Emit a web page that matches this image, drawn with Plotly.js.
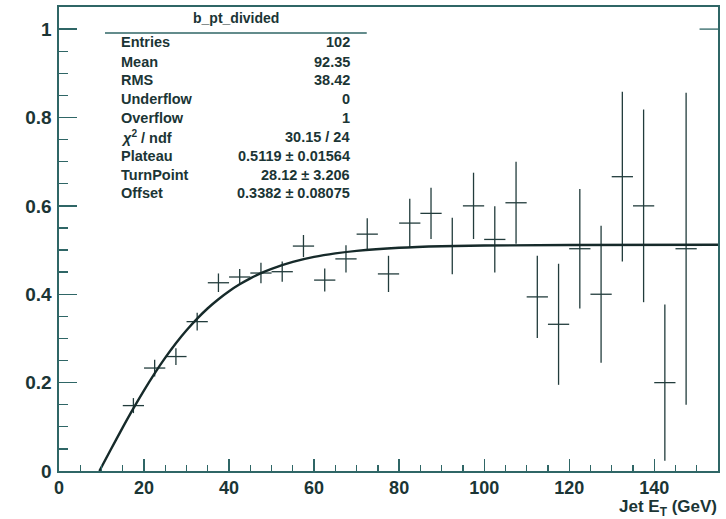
<!DOCTYPE html>
<html>
<head>
<meta charset="utf-8">
<script src="https://cdn.plot.ly/plotly-3.0.1.min.js"></script>
<style>
html,body{margin:0;padding:0;background:#fff;}
#chart{width:726px;height:519px;}
</style>
</head>
<body>
<div id="chart"></div>
<script>
// Bin centres (GeV) and efficiency values with errors
const binCenters = [17.5,22.5,27.5,32.5,37.5,42.5,47.5,52.5,57.5,62.5,67.5,72.5,77.5,82.5,87.5,92.5,97.5,102.5,107.5,112.5,117.5,122.5,127.5,132.5,137.5,142.5,147.5];
const binHalfWidth = [2.5,2.5,2.5,2.5,2.5,2.5,2.5,2.5,2.5,2.5,2.5,2.5,2.5,2.5,2.5,2.5,2.5,2.5,2.5,2.5,2.5,2.5,2.5,2.5,2.5,2.5,2.5];
const effValues = [0.148,0.233,0.259,0.338,0.426,0.439,0.448,0.451,0.509,0.432,0.480,0.536,0.446,0.561,0.583,0.509,0.600,0.524,0.607,0.394,0.332,0.503,0.400,0.666,0.600,0.200,0.503];
const effErrors = [0.017,0.019,0.019,0.020,0.021,0.018,0.023,0.023,0.025,0.026,0.031,0.036,0.041,0.055,0.058,0.064,0.075,0.075,0.093,0.093,0.137,0.135,0.155,0.192,0.218,0.177,0.353];

// Fit curve
const fitX = [9.5,12,15,17.5,20,22.5,25,27.5,30,32.5,35,37.5,40,42.5,45,47.5,50,55,60,65,70,80,90,100,120,155];
const fitY = [0,0.0452,0.0987,0.1416,0.1825,0.2210,0.2566,0.2892,0.3185,0.3449,0.3683,0.3888,0.4069,0.4225,0.4359,0.4476,0.4575,0.4731,0.4844,0.4924,0.4982,0.5051,0.5086,0.5103,0.5115,0.5119];

// Stats box
const statsTitle = "b_pt_divided";
const statLabels = ["Entries","Mean","RMS","Underflow","Overflow","<i>χ</i><sup>2</sup> / ndf","Plateau","TurnPoint","Offset"];
const statValues = ["102","92.35","38.42","0","1","30.15 / 24","0.5119 ± 0.01564","28.12 ± 3.206","0.3382 ± 0.08075"];

const xTitle = "Jet E<sub>T</sub> (GeV)";

const frameColor = "#2f6666";
const textColor = "#1b3535";
const markColor = "#223c3c";
const fontFam = "Liberation Sans, Arial, sans-serif";

const traces = [
  {
    x: binCenters, y: effValues, type: "scatter", mode: "markers",
    marker: {size: 1, color: markColor, opacity: 0},
    error_y: {type: "data", array: effErrors, visible: true, color: markColor, thickness: 1.3, width: 0},
    error_x: {type: "data", array: binHalfWidth, visible: true, color: markColor, thickness: 1.3, width: 0},
    hoverinfo: "skip", showlegend: false
  },
  {
    x: fitX, y: fitY, type: "scatter", mode: "lines",
    line: {color: "#162a2a", width: 2.4, shape: "spline"},
    hoverinfo: "skip", showlegend: false
  }
];

// stats rows positions (paper)
const rowY = [0.925,0.882,0.8427,0.8017,0.7614,0.7205,0.6795,0.638,0.5985];
const annotations = [];
annotations.push({xref:"paper", yref:"paper", x:0.2686, y:0.976, text:statsTitle, showarrow:false,
  xanchor:"center", yanchor:"middle", font:{family:fontFam, size:14, color:textColor, weight:"bold"}});
statLabels.forEach((lab,i)=>{
  annotations.push({xref:"paper", yref:"paper", x:0.091, y:rowY[i], text:lab, showarrow:false,
    xanchor:"left", yanchor:"middle", font:{family:fontFam, size:14.5, color:textColor, weight:"bold"}});
  annotations.push({xref:"paper", yref:"paper", x:0.4446, y:rowY[i], text:statValues[i], showarrow:false,
    xanchor:"right", yanchor:"middle", font:{family:fontFam, size:14.5, color:textColor, weight:"bold"}});
});
annotations.push({xref:"paper", yref:"paper", x:1.0, y:-0.053, text:xTitle, showarrow:false,
  xanchor:"right", yanchor:"top", borderpad:0, font:{family:fontFam, size:17, color:textColor, weight:"bold"}});

const layout = {
  width: 726, height: 519,
  margin: {l: 59, r: 8, t: 7, b: 48, pad: 0},
  paper_bgcolor: "#ffffff", plot_bgcolor: "#ffffff",
  showlegend: false,
  xaxis: {
    range: [0, 155], dtick: 20, tick0: 0,
    ticks: "inside", ticklen: 12, tickwidth: 1.3, tickcolor: frameColor,
    minor: {dtick: 5, ticks: "inside", ticklen: 6, tickwidth: 1.3, tickcolor: frameColor},
    showgrid: false, zeroline: false,
    showline: true, mirror: true, linecolor: frameColor, linewidth: 1.6,
    tickfont: {family: fontFam, size: 18, color: textColor, weight: "bold"},
    fixedrange: true
  },
  yaxis: {
    range: [0, 1.05], dtick: 0.2, tick0: 0,
    ticks: "inside", ticklen: 18, tickwidth: 1.3, tickcolor: frameColor,
    minor: {dtick: 0.05, ticks: "inside", ticklen: 9, tickwidth: 1.3, tickcolor: frameColor},
    showgrid: false, zeroline: false,
    showline: true, mirror: true, linecolor: frameColor, linewidth: 1.6,
    tickfont: {family: fontFam, size: 19, color: textColor, weight: "bold"},
    ticklabelstandoff: 2,
    fixedrange: true
  },
  shapes: [
    {type: "line", xref: "paper", yref: "paper", x0: 0.0698, x1: 0.467, y0: 0.944, y1: 0.944,
     line: {color: frameColor, width: 1.6}},
    {type: "line", xref: "paper", yref: "y", x0: 0.972, x1: 1.0, y0: 1, y1: 1,
     line: {color: frameColor, width: 1.3}}
  ],
  annotations: annotations
};

Plotly.newPlot("chart", traces, layout, {displayModeBar: false, staticPlot: true});
</script>
</body>
</html>
